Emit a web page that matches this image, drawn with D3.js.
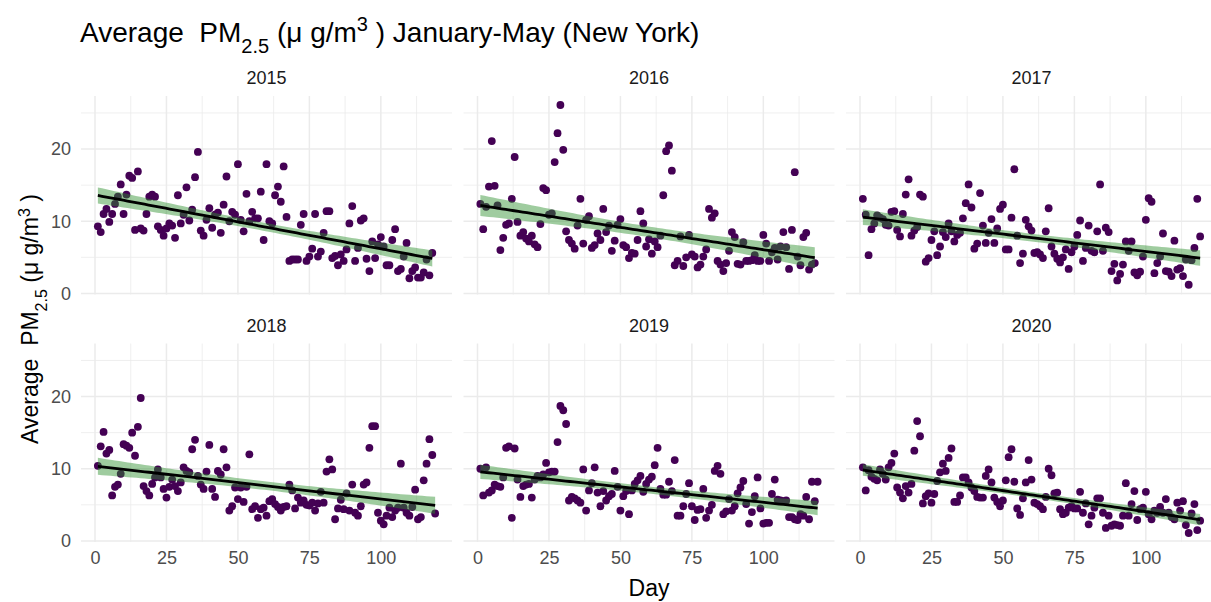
<!DOCTYPE html>
<html>
<head>
<meta charset="utf-8">
<script src="https://cdn.jsdelivr.net/npm/d3@7"></script>
<style>
  body { margin: 0; background: #fff; }
  text { font-family: "Liberation Sans", Arial, sans-serif; }
</style>
</head>
<body>
<svg id="chart" width="1211" height="602"></svg>
<script>
// daily average PM2.5, day 1 = Jan 1
var years = ["2015", "2016", "2017", "2018", "2019", "2020"];

var pm_2015 = [9.3, 8.5, 11, 11.7, 9.9, 11, 12.4, 13.4, 15.1, 11, 13.7, 16.3, 16, 8.8, 16.9, 9, 8.7, 11, 13.4, 13.7,
  13.4, 9.3, 8.8, 8, 9, 9.7, 9.4, 7.7, 13.6, 9.7, 10.9, 14.7, 10.1, 11.6, 16.1, 19.6, 8.7, 8, 10.2, 11.8,
  9.1, 10.9, 11.2, 8.4, 12.3, 16.2, 10, 11.3, 10.9, 17.9, 10.2, 8.6, 13.8, 10, 11.3, 10.4, 10.4, 14.1, 7.4, 17.9,
  10, 9.7, 13.6, 14.8, 12.7, 17.6, 10.6, 4.5, 4.7, 4.7, 4.7, 9.5, 11, 4.5, 5.1, 6.2, 11, 5.1, 5.8, 8.4,
  11.4, 11.4, 4.9, 5.2, 3.9, 5.4, 4.5, 6.1, 9.7, 12.1, 4.5, 6.3, 10.1, 10.4, 4.8, 3.1, 7.2, 4.9, 6.8, 7.8,
  6.5, 3.9, 3.9, 7.4, 8.9, 3.1, 3.4, 5.1, 7, 2.1, 3.1, 3.6, 2.2, 2.2, 2.9, 4.7, 2.5, 5.6];

var pm_2016 = [12.4, 8.9, 12, 14.8, 21.1, 14.9, 12.2, 6, 7.7, 9.5, 9.7, 13.1, 18.9, 9.9, 8, 8.5, 7.6, 7.2, 8, 6.8,
  6.4, 9.6, 14.6, 14.3, 10.9, 11.1, 18.2, 22.2, 26.1, 19.9, 8.6, 7.4, 6.9, 6.2, 9.4, 13.1, 6.9, 10.2, 10.7, 6.3,
  6.7, 8.3, 7.4, 11.7, 8.5, 9.4, 5.9, 7.3, 9.5, 10.3, 6.7, 6.4, 4.9, 5.6, 5.5, 7.4, 11.4, 9.7, 6.5, 7.5,
  5.5, 7.2, 6.4, 8, 13.6, 19.7, 20.5, 17, 3.9, 4.5, 7.9, 3.8, 5, 8.1, 5.4, 5.1, 3.6, 4, 5.1, 6.1,
  11.7, 10.5, 11.1, 4.5, 4, 3.1, 4.2, 5.9, 8.5, 7.8, 4.1, 4, 7.1, 4.5, 4.5, 4.6, 5.3, 4.5, 4.5, 8.1,
  6.9, 4.5, 5.7, 6.3, 4.7, 6.5, 8.5, 6.4, 3.4, 8.8, 16.8, 5.1, 3.9, 7.8, 8.4, 3.3, 4, 4.2];

var pm_2017 = [13.1, 10.9, 5.3, 8.9, 9.7, 10.8, 10.5, 10.3, 9.5, 9.4, 11.3, 11.4, 8.8, 7.9, 11, 13.7, 15.8, 8, 8.7, 9.2,
  13.7, 13.4, 4.4, 4.9, 7.4, 8.6, 5.3, 6.5, 8.5, 7.8, 9.7, 8.6, 7.2, 8.1, 8.4, 10.4, 12.5, 15.1, 11.9, 6.2,
  6.9, 13.9, 9.4, 7, 8.4, 10.3, 7, 9, 11.7, 12.3, 6.1, 6.1, 10.5, 17.2, 8, 4.2, 5.5, 10.2, 9.3, 8.7,
  5.6, 5.7, 5.4, 4.9, 8.6, 11.8, 6.5, 5.5, 4.8, 4.3, 5, 6.1, 3.4, 5.7, 6.5, 8.1, 10.1, 4.5, 6.3, 9.4,
  5.9, 5.7, 8.6, 15.1, 5.9, 9.1, 8.5, 3.1, 4.1, 1.8, 2.7, 4, 7.2, 5.9, 7.2, 2.9, 2.5, 3, 5.1, 10.2,
  13.2, 12.7, 2.8, 4.2, 5.1, 8.3, 3.1, 3, 2.4, 7.3, 3.3, 3.5, 2.4, 4.7, 1.2, 4.6, 6.3, 13.1, 7.9];

var pm_2018 = [10.4, 13.1, 15.1, 12.1, 12.6, 6.3, 7.5, 7.8, 9.3, 13.4, 13.2, 12.9, 15, 11.8, 15.8, 19.8, 7.6, 6.9, 6.3, 7.9,
  8.8, 9.9, 8.8, 7.2, 6, 7.5, 8.5, 7.6, 6.9, 8.1, 10.2, 9.7, 9.5, 12.7, 14, 9, 7.8, 7.2, 9.6, 13.3,
  7.2, 6.1, 9.7, 9.2, 12.7, 10.2, 4.2, 4.8, 7.4, 5.8, 7.4, 5.4, 7.5, 12, 4.4, 4.8, 3.2, 4.4, 4.6, 3.5,
  5.5, 5.8, 5.1, 4.7, 4.2, 4.7, 4.8, 7.8, 7, 4.5, 6, 5.3, 5.6, 5, 4.9, 5.3, 4.2, 5.2, 6.8, 5.3,
  9.6, 11.3, 9.9, 3, 4.5, 5.7, 4.4, 6.6, 4.2, 7.8, 3.9, 3.5, 4.8, 7.8, 8.1, 12.9, 15.9, 15.9, 3.9, 2.8,
  2.3, 3.5, 4.6, 3.3, 4.2, 4.6, 10.7, 4.6, 3.9, 3.5, 4.7, 7.1, 3, 3.3, 8.4, 10.7, 14.1, 11.9, 3.8];

var pm_2019 = [10, 6.3, 10.2, 6.7, 7, 7.8, 7.6, 7.5, 8.8, 12.9, 13.1, 3.2, 12.8, 8.5, 6.1, 7.6, 7.8, 7.9, 6, 8.5,
  9, 8.8, 9.2, 10.8, 9.5, 9.6, 9.6, 13.7, 18.7, 18.1, 16.2, 5.6, 6.1, 5.9, 5.6, 5.3, 9.9, 4.2, 7, 8,
  10.2, 6.7, 4.8, 6.9, 5.6, 6.2, 6.5, 9.7, 7.5, 4.2, 6.2, 6.9, 3.7, 7, 7.9, 8.4, 9, 6.8, 7.9, 8.5,
  8.9, 10.5, 12.9, 7.2, 6.4, 6.4, 8.2, 6.9, 11.2, 3.5, 3.5, 4.8, 6.5, 8, 4.8, 2.9, 4.3, 4.4, 7.2, 3.2,
  4.2, 5, 9.7, 10.4, 9.3, 3.7, 4.1, 5.8, 4.2, 4.8, 6.6, 7.4, 8.3, 5.1, 2.4, 4, 6.2, 8.8, 4.5, 2.4,
  2.5, 2.5, 6.5, 8.5, 5.7, 5.6, 5.5, 5.6, 3.3, 3.3, 3, 2.9, 3.7, 3.5, 6.1, 3, 8.2, 5.5, 8.2];

var pm_2020 = [10.2, 7, 9.8, 8.9, 8.6, 8.4, 9.9, 9.3, 8.5, 10.2, 10.8, 12.1, 7.4, 6.7, 5.9, 7.6, 6.7, 7.9, 12.5, 16.6,
  14.5, 5.2, 6.2, 6.6, 5.3, 6.5, 8.3, 9.5, 10.7, 9.7, 11.5, 12.8, 5.4, 5.4, 6.3, 8.8, 8.8, 8.1, 7.4, 6.9,
  6.1, 6, 6, 9, 9.9, 8.1, 6, 5.4, 4.8, 5.6, 8.4, 11.6, 12.7, 8.2, 4.5, 3.6, 5.9, 8.1, 11.2, 8.5,
  5.3, 5.1, 4.8, 4.4, 6.1, 10, 9.1, 6.6, 6.7, 4.4, 3.7, 3.9, 4.6, 4.8, 4.5, 4.5, 6.8, 3.9, 5.2, 2.3,
  3.5, 4.6, 5.9, 5.9, 3.9, 1.8, 3.5, 2.1, 2.3, 2.2, 2.1, 3.5, 8, 3.5, 5.1, 6.9, 2.9, 4.4, 4.6, 6.8,
  3.7, 3, 4.2, 3.9, 4.7, 3.9, 5.8, 3.9, 3.3, 3, 5.3, 4.2, 5.5, 2.2, 1.1, 3.8, 5.1, 1.5, 2.8];

var x_ticks = [0, 25, 50, 75, 100],
    x_minor = [12.5, 37.5, 62.5, 87.5, 112.5],
    y_ticks = [0, 10, 20],
    y_minor = [5, 15, 25];

var series = [pm_2015, pm_2016, pm_2017, pm_2018, pm_2019, pm_2020].map((v, i) => ({
  year: years[i],
  points: v.map((d, j) => ({ day: j + 1, pm: d }))
}));

var svg = d3.select("#chart");
var panel_w = 371, panel_h = 198.5,
    col_x = [81, 463.5, 846],
    row_y = [96, 343.5];

// shared scales, ggplot style 5% expansion
var all_pts = d3.merge(series.map(s => s.points));
var x_ext = d3.extent(all_pts, d => d.day),
    y_ext = d3.extent(all_pts, d => d.pm),
    x_pad = (x_ext[1] - x_ext[0]) * 0.05,
    y_pad = (y_ext[1] - y_ext[0]) * 0.05;

var x_scale = d3.scaleLinear().domain([x_ext[0] - x_pad, x_ext[1] + x_pad]).range([0, panel_w]),
    y_scale = d3.scaleLinear().domain([y_ext[0] - y_pad, y_ext[1] + y_pad]).range([panel_h, 0]);

// lm fit with 95% confidence band
function fit_lm (pts) {
  var n = pts.length,
      mx = d3.mean(pts, d => d.day),
      my = d3.mean(pts, d => d.pm),
      sxx = d3.sum(pts, d => (d.day - mx) * (d.day - mx)),
      sxy = d3.sum(pts, d => (d.day - mx) * (d.pm - my)),
      b = sxy / sxx,
      a = my - b * mx,
      sse = d3.sum(pts, d => Math.pow(d.pm - (a + b * d.day), 2)),
      s = Math.sqrt(sse / (n - 2)),
      t = 1.98,
      lo = d3.min(pts, d => d.day), hi = d3.max(pts, d => d.day);
  return d3.range(80).map(k => {
    var x = lo + (hi - lo) * k / 79,
        yh = a + b * x,
        se = s * Math.sqrt(1 / n + (x - mx) * (x - mx) / sxx);
    return { day: x, fit: yh, lo: yh - t * se, hi: yh + t * se };
  });
}

var band = d3.area().x(d => x_scale(d.day)).y0(d => y_scale(d.lo)).y1(d => y_scale(d.hi)),
    line = d3.line().x(d => x_scale(d.day)).y(d => y_scale(d.fit));

series.forEach((s, i) => {
  var col = i % 3, row = Math.floor(i / 3);
  var g = svg.append("g").attr("transform", "translate(" + col_x[col] + "," + row_y[row] + ")");

  // grid
  g.selectAll(".minor-x").data(x_minor).enter().append("line")
    .attr("x1", d => x_scale(d)).attr("x2", d => x_scale(d))
    .attr("y1", 0).attr("y2", panel_h)
    .style("stroke", "#ebebeb").style("stroke-width", 0.8);
  g.selectAll(".minor-y").data(y_minor).enter().append("line")
    .attr("x1", 0).attr("x2", panel_w)
    .attr("y1", d => y_scale(d)).attr("y2", d => y_scale(d))
    .style("stroke", "#ebebeb").style("stroke-width", 0.8);
  g.selectAll(".major-x").data(x_ticks).enter().append("line")
    .attr("x1", d => x_scale(d)).attr("x2", d => x_scale(d))
    .attr("y1", 0).attr("y2", panel_h)
    .style("stroke", "#ebebeb").style("stroke-width", 1.5);
  g.selectAll(".major-y").data(y_ticks).enter().append("line")
    .attr("x1", 0).attr("x2", panel_w)
    .attr("y1", d => y_scale(d)).attr("y2", d => y_scale(d))
    .style("stroke", "#ebebeb").style("stroke-width", 1.5);

  // strip label
  g.append("text")
    .attr("x", panel_w / 2).attr("y", -12)
    .attr("text-anchor", "middle")
    .style("font-size", "18px").style("fill", "#1a1a1a")
    .text(s.year);

  // points
  g.selectAll(".pt").data(s.points).enter().append("circle")
    .attr("class", "pt")
    .attr("r", 3.9)
    .attr("cx", d => x_scale(d.day))
    .attr("cy", d => y_scale(d.pm))
    .style("fill", "#440154");

  // smooth
  var fit = fit_lm(s.points);
  g.append("path").datum(fit).attr("d", band)
    .style("fill", "#2a8f2a").style("fill-opacity", 0.45);
  g.append("path").datum(fit).attr("d", line)
    .style("fill", "none").style("stroke", "#000").style("stroke-width", 2.8);

  // axes labels
  if (col == 0) {
    var ya = g.append("g").call(d3.axisLeft(y_scale).tickValues(y_ticks).tickSize(0).tickPadding(10));
    ya.select(".domain").remove();
    ya.selectAll("text").style("font-size", "18px").style("fill", "#4d4d4d")
      .style("font-family", "'Liberation Sans', Arial, sans-serif");
  }
  if (row == 1) {
    var xa = g.append("g").attr("transform", "translate(0," + panel_h + ")")
      .call(d3.axisBottom(x_scale).tickValues(x_ticks).tickSize(0).tickPadding(9));
    xa.select(".domain").remove();
    xa.selectAll("text").style("font-size", "18px").style("fill", "#4d4d4d")
      .style("font-family", "'Liberation Sans', Arial, sans-serif");
  }
});

// title
var title = svg.append("text").attr("x", 80).attr("y", 42)
  .style("font-size", "28px").style("fill", "#000").style("white-space", "pre");
title.append("tspan").text("Average  PM");
title.append("tspan").attr("baseline-shift", "sub").style("font-size", "20px").text("2.5");
title.append("tspan").text(" (\u03bc g/m");
title.append("tspan").attr("baseline-shift", "super").style("font-size", "20px").text("3");
title.append("tspan").text(" ) January-May (New York)");

// x label
svg.append("text").attr("x", (col_x[0] + col_x[2] + panel_w) / 2).attr("y", 596)
  .attr("text-anchor", "middle")
  .style("font-size", "23px").style("fill", "#000")
  .text("Day");

// y label
var ylab = svg.append("text")
  .attr("transform", "translate(38," + (row_y[0] + (row_y[1] + panel_h - row_y[0]) / 2) + ") rotate(-90)")
  .attr("text-anchor", "middle")
  .style("font-size", "23px").style("fill", "#000").style("white-space", "pre");
ylab.append("tspan").text("Average  PM");
ylab.append("tspan").attr("baseline-shift", "sub").style("font-size", "16px").text("2.5");
ylab.append("tspan").text(" (\u03bc g/m");
ylab.append("tspan").attr("baseline-shift", "super").style("font-size", "16px").text("3");
ylab.append("tspan").text(" )");
</script>
</body>
</html>
